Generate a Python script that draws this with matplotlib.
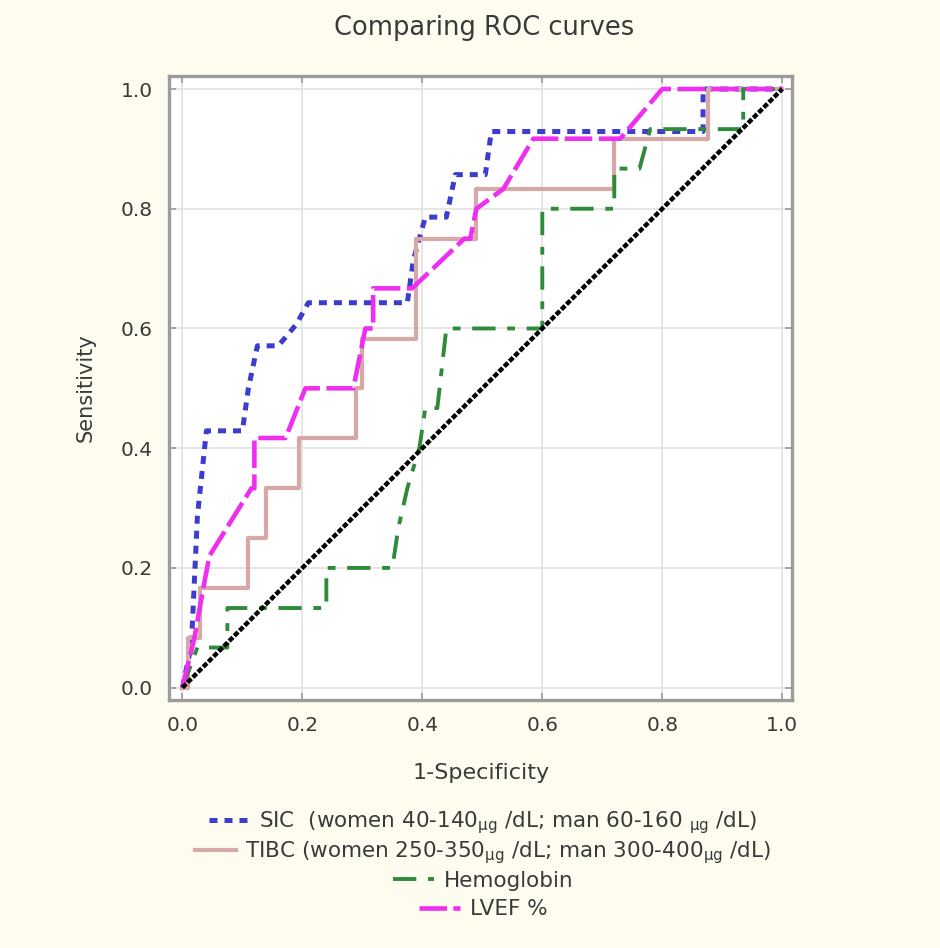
import matplotlib
matplotlib.use("Agg")
import matplotlib.pyplot as plt

plt.rcParams['font.family'] = ['DejaVu Sans']
plt.rcParams['mathtext.fontset'] = 'dejavusans'

# ROC curves: false-positive rate (1 - specificity) vs. sensitivity
sic_fpr = [0.0, 0.015, 0.025, 0.04, 0.10, 0.11, 0.125, 0.16, 0.19, 0.21, 0.375,
           0.385, 0.405, 0.44, 0.455, 0.505, 0.515, 0.868, 0.868, 1.0]
sic_tpr = [0.0, 0.071, 0.286, 0.429, 0.429, 0.5, 0.571, 0.571, 0.607, 0.643, 0.643,
           0.714, 0.786, 0.786, 0.857, 0.857, 0.929, 0.929, 1.0, 1.0]

tibc_fpr = [0.0, 0.01, 0.01, 0.03, 0.03, 0.11, 0.11, 0.14, 0.14, 0.195, 0.195, 0.29,
            0.29, 0.30, 0.30, 0.39, 0.39, 0.49, 0.49, 0.72, 0.72, 0.877, 0.877, 1.0]
tibc_tpr = [0.0, 0.0, 0.083, 0.083, 0.167, 0.167, 0.25, 0.25, 0.333, 0.333, 0.417, 0.417,
            0.5, 0.5, 0.583, 0.583, 0.75, 0.75, 0.833, 0.833, 0.917, 0.917, 1.0, 1.0]

hb_fpr = [0.0, 0.025, 0.075, 0.075, 0.24, 0.24, 0.35, 0.36, 0.375, 0.395, 0.405,
          0.425, 0.44, 0.60, 0.60, 0.72, 0.72, 0.762, 0.78, 0.935, 0.935, 1.0]
hb_tpr = [0.0, 0.067, 0.067, 0.133, 0.133, 0.2, 0.2, 0.267, 0.333, 0.4, 0.467,
          0.467, 0.6, 0.6, 0.8, 0.8, 0.867, 0.867, 0.933, 0.933, 1.0, 1.0]

lvef_fpr = [0.0, 0.02, 0.035, 0.045, 0.115, 0.12, 0.12, 0.172, 0.205, 0.27, 0.285,
            0.305, 0.318, 0.318, 0.383, 0.47, 0.48, 0.49, 0.535, 0.585, 0.73, 0.80, 1.0]
lvef_tpr = [0.0, 0.083, 0.167, 0.22, 0.333, 0.333, 0.417, 0.417, 0.5, 0.5, 0.5,
            0.6, 0.6, 0.667, 0.667, 0.75, 0.75, 0.8, 0.833, 0.917, 0.917, 1.0, 1.0]

ref_line = [0.0, 1.0]

labels = [
    r"SIC  (women 40-140$_{\mathregular{\mu g}}$ /dL; man 60-160 $_{\mathregular{\mu g}}$ /dL)",
    r"TIBC (women 250-350$_{\mathregular{\mu g}}$ /dL; man 300-400$_{\mathregular{\mu g}}$ /dL)",
    "Hemoglobin",
    "LVEF %",
]
ticks = [0.0, 0.2, 0.4, 0.6, 0.8, 1.0]
tick_labels = ["0.0", "0.2", "0.4", "0.6", "0.8", "1.0"]

bg = "#fdfcee"
txt = "#3a3a3a"
fig = plt.figure(figsize=(9.4, 9.48), dpi=100, facecolor=bg)
ax = fig.add_axes([0.180, 0.262, 0.663, 0.658])
ax.set_facecolor("white")

styles = [
    dict(color="#3c3ccf", lw=3.6, ls=(0, (1.6, 1.4))),
    dict(color="#d6a8a6", lw=3.0, ls="-"),
    dict(color="#2f8a3a", lw=2.8, ls=(0, (6, 3, 2, 3))),
    dict(color="#f02ef0", lw=3.3, ls=(0, (6, 1.4))),
]
series = [(sic_fpr, sic_tpr), (tibc_fpr, tibc_tpr), (hb_fpr, hb_tpr), (lvef_fpr, lvef_tpr)]
handles = []
for (fx, ty), st, lab in zip(series, styles, labels):
    h, = ax.plot(fx, ty, color=st["color"], lw=st["lw"], linestyle=st["ls"], label=lab)
    handles.append(h)

ax.plot(ref_line, ref_line, color="black", lw=3.2, linestyle=(0, (1.2, 0.45)), zorder=5)

ax.set_xlim(-0.022, 1.017)
ax.set_ylim(-0.02, 1.022)
ax.set_xticks(ticks)
ax.set_xticklabels(tick_labels)
ax.set_yticks(ticks)
ax.set_yticklabels(tick_labels)
ax.grid(True, color="#e4e4e4", lw=1.3)
ax.set_axisbelow(True)
ax.tick_params(axis="both", which="both", direction="in", length=5, width=1.2,
               color="#9a9a9a", labelsize=14.5, labelcolor=txt, pad=12,
               top=True, right=True)
for sp in ax.spines.values():
    sp.set_color("#9c9c9c")
    sp.set_linewidth(2.4)

fig.text(0.515, 0.970, "Comparing ROC curves", ha="center", va="center",
         fontsize=18.5, color=txt)
ax.set_xlabel("1-Specificity", fontsize=16, color=txt, labelpad=20)
ax.set_ylabel("Sensitivity", fontsize=15, color=txt, labelpad=18)

# one centred row per curve underneath the axes
rows_y = [0.132, 0.101, 0.071, 0.041]
for h, y in zip(handles, rows_y):
    fig.legend(handles=[h], loc="center", bbox_to_anchor=(0.514, y), frameon=False,
               fontsize=15.5, handlelength=1.9, handletextpad=0.45, borderpad=0.1,
               labelcolor=txt)

fig.savefig("out.png", dpi=100, facecolor=bg)
